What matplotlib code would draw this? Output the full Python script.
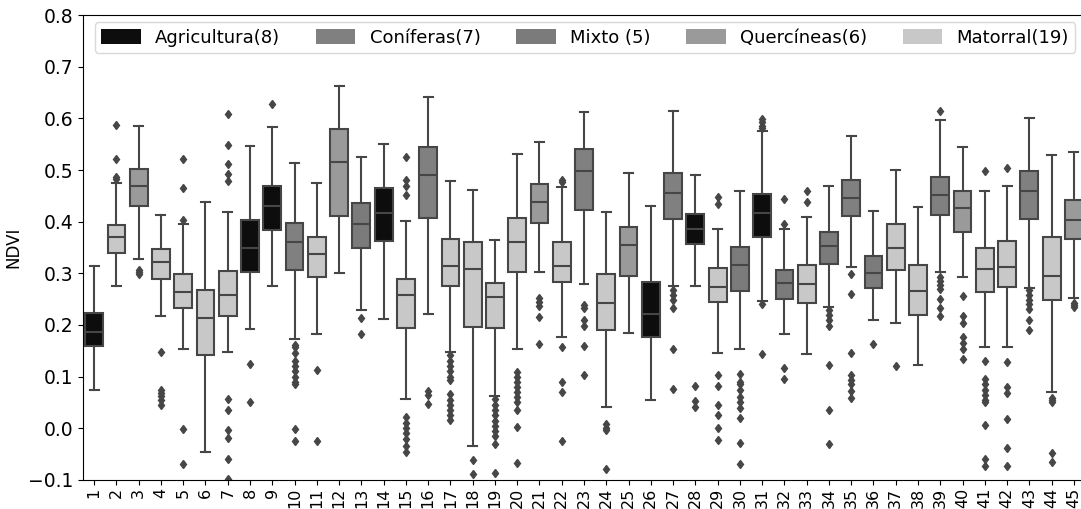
import matplotlib
matplotlib.use("Agg")
import matplotlib.pyplot as plt
from matplotlib.patches import Patch

plt.rcParams['font.family'] = ['DejaVu Sans']

labels = [str(i) for i in range(1, 46)]

classes = ["Agricultura(8)", "Coníferas(7)", "Mixto (5)", "Quercíneas(6)", "Matorral(19)"]
class_colors = ["#0d0d0d", "#808080", "#7b7b7b", "#9a9a9a", "#c8c8c8"]

# class index per box (0=Agricultura,1=Coníferas,2=Mixto,3=Quercíneas,4=Matorral)
box_class = [0, 4, 3, 4, 4, 4, 4, 0, 0, 1,
             4, 3, 2, 0, 4, 1, 4, 4, 4, 4,
             3, 4, 1, 4, 3, 0, 1, 0, 4, 2,
             0, 2, 4, 2, 1, 2, 4, 4, 1, 3,
             4, 4, 1, 4, 3]

whislo = [0.075, 0.275, 0.327, 0.218, 0.154, -0.045, 0.147, 0.192, 0.276, 0.172,
          0.183, 0.300, 0.229, 0.211, 0.056, 0.222, 0.147, -0.034, 0.063, 0.153,
          0.303, 0.177, 0.280, 0.041, 0.185, 0.055, 0.276, 0.275, 0.146, 0.153,
          0.247, 0.183, 0.143, 0.234, 0.312, 0.209, 0.203, 0.123, 0.303, 0.293,
          0.158, 0.158, 0.271, 0.071, 0.253]
q1 = [0.159, 0.340, 0.431, 0.289, 0.233, 0.141, 0.218, 0.303, 0.384, 0.306,
      0.293, 0.411, 0.350, 0.363, 0.194, 0.408, 0.275, 0.196, 0.194, 0.303,
      0.398, 0.284, 0.422, 0.191, 0.295, 0.177, 0.405, 0.356, 0.245, 0.266,
      0.371, 0.251, 0.243, 0.319, 0.411, 0.271, 0.306, 0.220, 0.412, 0.380,
      0.263, 0.273, 0.406, 0.248, 0.366]
med = [0.187, 0.371, 0.469, 0.321, 0.263, 0.213, 0.258, 0.350, 0.430, 0.360,
       0.338, 0.515, 0.396, 0.417, 0.258, 0.490, 0.315, 0.309, 0.255, 0.360,
       0.439, 0.314, 0.499, 0.243, 0.354, 0.221, 0.456, 0.385, 0.273, 0.316,
       0.416, 0.282, 0.279, 0.353, 0.445, 0.300, 0.349, 0.265, 0.451, 0.427,
       0.308, 0.313, 0.460, 0.295, 0.404]
q3 = [0.224, 0.393, 0.501, 0.348, 0.299, 0.268, 0.304, 0.404, 0.470, 0.398,
      0.371, 0.579, 0.437, 0.465, 0.289, 0.545, 0.366, 0.361, 0.282, 0.407,
      0.473, 0.360, 0.540, 0.298, 0.390, 0.284, 0.495, 0.415, 0.311, 0.351,
      0.454, 0.306, 0.317, 0.380, 0.481, 0.333, 0.395, 0.317, 0.487, 0.460,
      0.350, 0.362, 0.499, 0.370, 0.441]
whishi = [0.314, 0.474, 0.586, 0.413, 0.395, 0.439, 0.419, 0.547, 0.583, 0.513,
          0.475, 0.663, 0.526, 0.550, 0.402, 0.641, 0.478, 0.462, 0.364, 0.531,
          0.555, 0.468, 0.612, 0.419, 0.495, 0.430, 0.615, 0.491, 0.386, 0.459,
          0.576, 0.386, 0.410, 0.470, 0.565, 0.420, 0.500, 0.429, 0.596, 0.545,
          0.459, 0.470, 0.601, 0.530, 0.534]
fliers = [
    [],
    [0.587, 0.521, 0.486, 0.482],
    [0.307, 0.303, 0.298],
    [0.148, 0.074, 0.068, 0.062, 0.054, 0.046],
    [0.521, 0.466, 0.403, -0.002, -0.070],
    [],
    [0.609, 0.549, 0.511, 0.492, 0.479, 0.056, 0.036, -0.003, -0.019, -0.059, -0.098],
    [0.125, 0.050],
    [0.627],
    [0.162, 0.158, 0.145, 0.130, 0.120, 0.110, 0.100, 0.090, 0.085, -0.002, -0.025],
    [0.112, -0.025],
    [],
    [0.213, 0.182],
    [],
    [0.526, 0.481, 0.469, 0.451, 0.022, 0.010, 0.000, -0.010, -0.020, -0.035, -0.045],
    [0.072, 0.065, 0.048],
    [0.141, 0.130, 0.120, 0.110, 0.100, 0.093, 0.067, 0.055, 0.045, 0.035, 0.025, 0.016],
    [-0.062, -0.088],
    [0.057, 0.045, 0.035, 0.025, 0.015, 0.005, -0.005, -0.015, -0.030, -0.087],
    [0.109, 0.100, 0.090, 0.080, 0.070, 0.060, 0.050, 0.035, 0.003, -0.067],
    [0.253, 0.245, 0.236, 0.216, 0.163],
    [0.481, 0.477, 0.158, 0.089, 0.070, -0.025],
    [0.238, 0.232, 0.209, 0.198, 0.160, 0.103],
    [0.009, 0.000, -0.004, -0.078],
    [],
    [],
    [0.267, 0.258, 0.248, 0.232, 0.154, 0.077],
    [0.082, 0.053, 0.041],
    [0.447, 0.434, 0.103, 0.082, 0.046, 0.026, 0.001, -0.022],
    [0.106, 0.090, 0.085, 0.075, 0.060, 0.050, 0.040, 0.020, -0.028, -0.070],
    [0.598, 0.592, 0.585, 0.582, 0.240, 0.143],
    [0.444, 0.396, 0.116, 0.096],
    [0.459, 0.439],
    [0.229, 0.220, 0.210, 0.198, 0.122, 0.035, -0.030],
    [0.298, 0.260, 0.146, 0.103, 0.093, 0.085, 0.073, 0.058],
    [0.164],
    [0.121],
    [],
    [0.614, 0.293, 0.285, 0.277, 0.270, 0.250, 0.233, 0.217],
    [0.256, 0.217, 0.203, 0.177, 0.165, 0.154, 0.135],
    [0.498, 0.130, 0.096, 0.085, 0.075, 0.065, 0.055, 0.050, 0.007, -0.059, -0.072],
    [0.503, 0.128, 0.080, 0.068, 0.019, -0.039, -0.073],
    [0.267, 0.258, 0.248, 0.240, 0.230, 0.210, 0.190],
    [0.059, 0.054, 0.051, -0.048, -0.065],
    [0.243, 0.238, 0.235],
]

edge = "#464646"

fig = plt.figure(figsize=(10.81, 5.09), dpi=100)
ax = fig.add_axes([0.0768, 0.057, 0.9232, 0.9135])

stats = []
for i in range(len(labels)):
    stats.append(dict(med=med[i], q1=q1[i], q3=q3[i], whislo=whislo[i],
                      whishi=whishi[i], fliers=fliers[i], label=labels[i]))

bp = ax.bxp(stats, positions=list(range(len(labels))), widths=0.8,
            patch_artist=True, manage_ticks=False,
            boxprops=dict(edgecolor=edge, linewidth=1.5),
            medianprops=dict(color=edge, linewidth=1.5),
            whiskerprops=dict(color=edge, linewidth=1.5),
            capprops=dict(color=edge, linewidth=1.5),
            flierprops=dict(marker='d', markerfacecolor=edge, markeredgecolor=edge,
                            markersize=4.5, linestyle='none'))
for patch, c in zip(bp['boxes'], box_class):
    patch.set_facecolor(class_colors[c])
for cap in bp['caps']:
    xd = cap.get_xdata()
    m = (xd[0] + xd[1]) / 2
    cap.set_xdata([m - 0.2, m + 0.2])

ax.set_xlim(-0.5, 44.32)
ax.set_ylim(-0.1, 0.8)
ax.set_xticks(range(len(labels)))
ax.set_xticklabels(labels, rotation=90, fontsize=11.5)
ax.tick_params(axis='x', length=3.5, pad=2)
ax.set_yticks([-0.1, 0.0, 0.1, 0.2, 0.3, 0.4, 0.5, 0.6, 0.7, 0.8])
ax.set_yticklabels(["−0.1", "0.0", "0.1", "0.2", "0.3", "0.4", "0.5", "0.6", "0.7", "0.8"], fontsize=13.5)
ax.set_ylabel("NDVI", fontsize=12)
ax.spines['right'].set_visible(False)

handles = [Patch(facecolor=class_colors[k], edgecolor='none', label=classes[k]) for k in range(5)]
leg = ax.legend(handles=handles, loc='upper left', ncol=5, mode='expand',
                bbox_to_anchor=(0.008, 0.992, 0.99, 0), fontsize=13,
                handlelength=2.2, handleheight=0.95, handletextpad=0.8,
                frameon=True, fancybox=True,
                edgecolor='#d0d0d0', borderaxespad=0.2, borderpad=0.35)

fig.savefig("out.png", dpi=100)
